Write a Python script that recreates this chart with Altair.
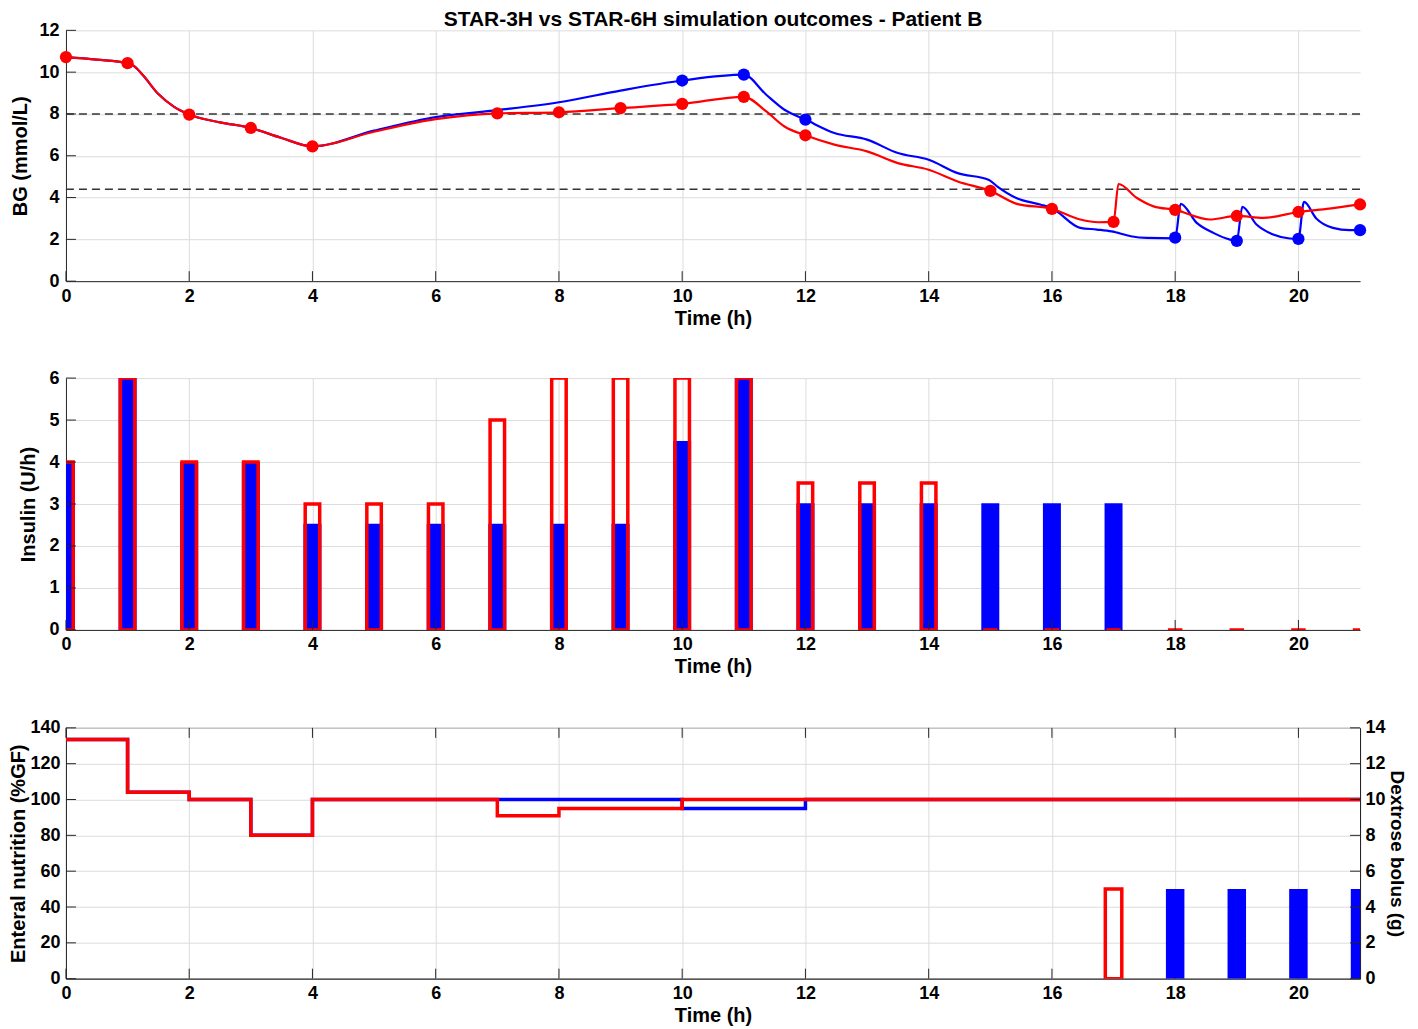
import altair as alt
import pandas as pd

FONT = "Liberation Sans, Arial, Helvetica, sans-serif"
TITLE = "STAR-3H vs STAR-6H simulation outcomes - Patient B"
RED = "#ff0000"
BLUE = "#0000ff"
INK = "#262626"

# ---------------- tick values ----------------
X_TICKS = [0, 2, 4, 6, 8, 10, 12, 14, 16, 18, 20]
BG_TICKS = [0, 2, 4, 6, 8, 10, 12]
INS_TICKS = [0, 1, 2, 3, 4, 5, 6]
EN_TICKS = [0, 20, 40, 60, 80, 100, 120, 140]
DEX_TICKS = [0, 2, 4, 6, 8, 10, 12, 14]

# ---------------- BG panel ----------------
BG_TARGETS = [8.0, 4.4]

red_curve_t = [0, 0.5, 1, 1.1, 1.25, 1.5, 1.75, 2, 2.5, 3, 3.5, 4, 5, 6, 7, 8, 9, 10, 11,
               11.36, 11.66, 12, 12.47, 13, 13.5, 14, 14.47, 15, 15.43, 16, 16.46, 16.75,
               17, 17.08, 17.38, 17.65, 18, 18.56, 19, 19.43, 20, 20.5, 21]
red_curve_bg = [10.72, 10.6, 10.43, 10.3, 9.85, 8.95, 8.35, 7.97, 7.6, 7.33, 6.85, 6.45, 7.15,
                7.75, 8.03, 8.08, 8.28, 8.48, 8.82, 8.13, 7.4, 6.98, 6.53, 6.21, 5.65, 5.33,
                4.77, 4.32, 3.7, 3.46, 2.95, 2.82, 2.84, 4.65, 3.98, 3.58, 3.41, 2.95, 3.12,
                3.03, 3.31, 3.47, 3.67]

blue_curve_t = [0, 0.5, 1, 1.1, 1.25, 1.5, 1.75, 2, 2.5, 3, 3.5, 4, 5, 6, 7, 8, 9, 10, 11,
                11.36, 11.66, 12, 12.47, 13, 13.5, 14, 14.47, 14.98, 15.11, 15.43, 15.81, 16,
                16.46, 16.73, 16.97, 17.28, 17.54, 18, 18.09, 18.35, 18.62, 18.89, 19, 19.09,
                19.32, 19.59, 19.86, 20, 20.09, 20.29, 20.56, 20.83, 21]
blue_curve_bg = [10.72, 10.6, 10.43, 10.3, 9.85, 8.95, 8.35, 7.97, 7.6, 7.33, 6.85, 6.45, 7.2,
                 7.85, 8.18, 8.56, 9.12, 9.6, 9.88, 8.93, 8.2, 7.73, 7.09, 6.77, 6.13, 5.81,
                 5.17, 4.84, 4.54, 3.97, 3.67, 3.49, 2.55, 2.47, 2.38, 2.15, 2.07, 2.05, 3.7,
                 2.79, 2.31, 1.99, 1.93, 3.55, 2.71, 2.23, 2.04, 2.02, 3.79, 3.0, 2.55, 2.44,
                 2.44]

red_meas_t = [0, 1, 2, 3, 4, 7, 8, 9, 10, 11, 12, 15, 16, 17, 18, 19, 20, 21]
red_meas_bg = [10.72, 10.43, 7.97, 7.33, 6.45, 8.03, 8.08, 8.28, 8.48, 8.82, 6.98, 4.32, 3.46,
               2.84, 3.41, 3.12, 3.31, 3.67]
blue_meas_t = [10, 11, 12, 18, 19, 20, 21]
blue_meas_bg = [9.6, 9.88, 7.73, 2.08, 1.93, 2.02, 2.44]

# ---------------- insulin panel ----------------
ins_t = list(range(0, 22))
red_ins = [4, 6, 4, 4, 3, 3, 3, 5, 6, 6, 6, 6, 3.5, 3.5, 3.5, 0, 0, 0, 0, 0, 0, 0]
blue_ins = [4, 6, 4, 4, 2.53, 2.53, 2.53, 2.53, 2.53, 2.53, 4.5, 6, 3.02, 3.02, 3.02, 3.02,
            3.02, 3.02, 0, 0, 0, 0]

# ---------------- nutrition / dextrose panel ----------------
red_en_t = [0, 1, 2, 3, 4, 7, 8, 10, 21]
red_en = [133.5, 104, 100, 80, 100, 91, 95, 100, 100]
blue_en_t = [0, 1, 2, 3, 4, 7, 10, 12, 21]
blue_en = [133.5, 104, 100, 80, 100, 100, 95, 100, 100]

red_dex_t = [17]
red_dex = [5]
blue_dex_t = [18, 19, 20, 21]
blue_dex = [5, 5, 5, 5]

# ---------------- layout ----------------
W = 1295
H1, H2, H3 = 251, 252, 251
TICK = 10

xscale = alt.Scale(domain=[0, 21], nice=False, zero=False, padding=0)


def x_axis():
    return alt.Axis(values=X_TICKS, title="Time (h)", labelPadding=6, titlePadding=3,
                    labelFlush=False, format="d")


def X():
    return alt.X("t:Q", scale=xscale, axis=x_axis())


def df(**cols):
    return pd.DataFrame(cols)


# ---- top: BG ----
bg_scale = alt.Scale(domain=[0, 12], nice=False, zero=False, padding=0)
bg_axis = alt.Axis(values=BG_TICKS, title="BG (mmol/L)", labelPadding=7, titlePadding=8,
                   format="d")


def BGY():
    return alt.Y("v:Q", scale=bg_scale, axis=bg_axis)


targets = alt.Chart(df(v=BG_TARGETS)).mark_rule(
    color="#333333", strokeWidth=1.4, strokeDash=[8, 5]).encode(y=BGY())
blue_line = alt.Chart(df(t=blue_curve_t, v=blue_curve_bg)).mark_line(
    color=BLUE, strokeWidth=2.2, interpolate="monotone", clip=True).encode(x=X(), y=BGY())
red_line = alt.Chart(df(t=red_curve_t, v=red_curve_bg)).mark_line(
    color=RED, strokeWidth=2.2, interpolate="monotone", clip=True).encode(x=X(), y=BGY())
blue_pts = alt.Chart(df(t=blue_meas_t, v=blue_meas_bg)).mark_point(
    filled=True, color=BLUE, size=150, opacity=1, shape="circle").encode(x=X(), y=BGY())
red_pts = alt.Chart(df(t=red_meas_t, v=red_meas_bg)).mark_point(
    filled=True, color=RED, size=150, opacity=1, shape="circle").encode(x=X(), y=BGY())
top_xt = alt.Chart(df(t=X_TICKS)).mark_rule(color=INK, strokeWidth=1).encode(
    x=X(), y=alt.value(H1), y2=alt.value(H1 - TICK))
top_yt = alt.Chart(df(v=BG_TICKS)).mark_rule(color=INK, strokeWidth=1).encode(
    y=BGY(), x=alt.value(0), x2=alt.value(TICK))

top = alt.layer(targets, blue_line, red_line, blue_pts, red_pts, top_xt, top_yt).properties(
    width=W, height=H1,
    title=alt.TitleParams(TITLE, fontSize=21, fontWeight="bold", font=FONT, color="#000000",
                          anchor="middle", offset=0, frame="group", dy=9))

# ---- middle: insulin ----
ins_scale = alt.Scale(domain=[0, 6], nice=False, zero=True, padding=0)
ins_axis = alt.Axis(values=INS_TICKS, title="Insulin (U/h)", labelPadding=7, titlePadding=10,
                    format="d")


def INSY():
    return alt.Y("v:Q", scale=ins_scale, axis=ins_axis)


blue_bars = alt.Chart(df(t=ins_t, v=blue_ins)).mark_bar(
    color=BLUE, size=18, clip=True).encode(x=X(), y=INSY())
red_bars = alt.Chart(df(t=ins_t, v=red_ins)).mark_bar(
    color=RED, filled=False, strokeWidth=3.5, size=14.5, clip=True).encode(x=X(), y=INSY())
mid_xt = alt.Chart(df(t=X_TICKS)).mark_rule(color=INK, strokeWidth=1).encode(
    x=X(), y=alt.value(H2), y2=alt.value(H2 - TICK))
mid_yt = alt.Chart(df(v=INS_TICKS)).mark_rule(color=INK, strokeWidth=1).encode(
    y=INSY(), x=alt.value(0), x2=alt.value(TICK))

mid = alt.layer(blue_bars, red_bars, mid_xt, mid_yt).properties(width=W, height=H2)

# ---- bottom: enteral nutrition + dextrose ----
en_scale = alt.Scale(domain=[0, 140], nice=False, zero=True, padding=0)
en_axis = alt.Axis(values=EN_TICKS, title="Enteral nutrition (%GF)", labelPadding=6,
                   titlePadding=1, format="d")
dex_scale = alt.Scale(domain=[0, 14], nice=False, zero=True, padding=0)
dex_axis = alt.Axis(values=DEX_TICKS, title="Dextrose bolus (g)", orient="right",
                    labelPadding=5, titlePadding=1, titleFontSize=19, grid=False,
                    format="d")


def ENY():
    return alt.Y("v:Q", scale=en_scale, axis=en_axis)


def DEXY():
    return alt.Y("d:Q", scale=dex_scale, axis=dex_axis)


blue_en_line = alt.Chart(df(t=blue_en_t, v=blue_en)).mark_line(
    color=BLUE, strokeWidth=3.5, interpolate="step-after", clip=True).encode(x=X(), y=ENY())
red_en_line = alt.Chart(df(t=red_en_t, v=red_en)).mark_line(
    color=RED, strokeWidth=3.5, interpolate="step-after", clip=True).encode(x=X(), y=ENY())
bot_xt = alt.Chart(df(t=X_TICKS)).mark_rule(color=INK, strokeWidth=1).encode(
    x=X(), y=alt.value(H3), y2=alt.value(H3 - TICK))
bot_xt_top = alt.Chart(df(t=X_TICKS)).mark_rule(color=INK, strokeWidth=1).encode(
    x=X(), y=alt.value(0), y2=alt.value(TICK))
bot_yt = alt.Chart(df(v=EN_TICKS)).mark_rule(color=INK, strokeWidth=1).encode(
    y=ENY(), x=alt.value(0), x2=alt.value(TICK))

en_layer = alt.layer(blue_en_line, red_en_line, bot_xt, bot_xt_top, bot_yt)

blue_dex_bars = alt.Chart(df(t=blue_dex_t, d=blue_dex)).mark_bar(
    color=BLUE, size=18.5, clip=True).encode(x=X(), y=DEXY())
red_dex_bars = alt.Chart(df(t=red_dex_t, d=red_dex)).mark_bar(
    color=RED, filled=False, strokeWidth=3.5, size=16.5, clip=True).encode(x=X(), y=DEXY())
dex_yt = alt.Chart(df(d=DEX_TICKS)).mark_rule(color=INK, strokeWidth=1).encode(
    y=DEXY(), x=alt.value(W), x2=alt.value(W - TICK))

dex_layer = alt.layer(blue_dex_bars, red_dex_bars, dex_yt)

bot = alt.layer(en_layer, dex_layer).resolve_scale(y="independent").properties(
    width=W, height=H3, view=alt.ViewBackground(stroke=INK, strokeWidth=1))

chart = alt.vconcat(top, mid, bot, spacing=41).properties(
    padding={"left": 0, "top": 1, "right": 4, "bottom": 0}
).configure(
    font=FONT
).configure_axis(
    labelFont=FONT, labelFontSize=18, labelFontWeight="bold", labelColor="#000000",
    titleFont=FONT, titleFontSize=20, titleFontWeight="bold", titleColor="#000000",
    domainColor=INK, domainWidth=1, ticks=False, grid=True, gridColor="#dcdcdc",
    gridWidth=1,
).configure_view(strokeWidth=0)

chart.save("out.html", embed_options={"renderer": "svg", "actions": False})
